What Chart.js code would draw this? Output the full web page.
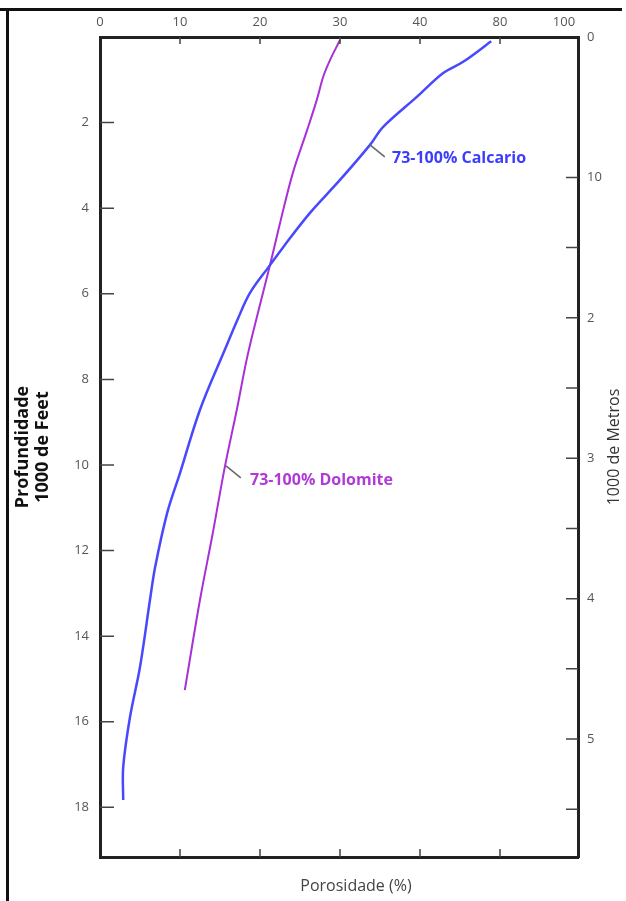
<!DOCTYPE html>
<html>
<head>
<meta charset="utf-8">
<script src="https://cdn.jsdelivr.net/npm/chart.js@4.4.1/dist/chart.umd.min.js"></script>
<style>
	body { margin: 0; background: #fff; }
	#wrap { position: relative; width: 626px; height: 901px; }
	#chart { position: absolute; left: 0; top: 0; }
	.frame { position: absolute; background: #111; pointer-events: none; }
</style>
</head>
<body>
<div id="wrap">
	<div class="frame" style="left:0; top:8px; width:622px; height:3px;"></div>
	<div class="frame" style="left:6px; top:8px; width:3px; height:893px;"></div>
	<canvas id="chart" width="626" height="901"></canvas>
</div>
<script>
// Porosity (%) against depth (1000 ft)
var CALCARIO_POROSITY = [48.9, 45.4, 42.9, 39.6, 35.4, 33.75, 30.0, 26.25, 22.9, 21.25, 18.75, 17.2, 15.6, 12.5, 10.0, 8.4, 6.9, 6.25, 5.0, 3.75, 2.9, 2.9];
var CALCARIO_DEPTH    = [0.1, 0.58, 0.84, 1.4, 2.1, 2.52, 3.34, 4.11, 4.91, 5.33, 5.98, 6.6, 7.31, 8.71, 10.19, 11.12, 12.38, 13.15, 14.72, 15.89, 17.06, 17.83];

var DOLOMITE_POROSITY = [30.0, 28.75, 27.9, 27.1, 25.9, 24.1, 22.5, 21.25, 19.8, 18.4, 17.1, 15.6, 14.1, 12.5, 10.6];
var DOLOMITE_DEPTH    = [0.07, 0.54, 0.93, 1.47, 2.17, 3.18, 4.35, 5.33, 6.4, 7.48, 8.71, 10.05, 11.59, 13.15, 15.26];

// axis ticks as printed on the figure
var TOP_TICK_VALUES = [0, 10, 20, 30, 40, 50, 58];
var TOP_TICK_LABELS = ['0', '10', '20', '30', '40', '80', '100'];
var BOTTOM_TICK_VALUES = [10, 20, 30, 40, 50];
var FEET_TICK_VALUES = [2, 4, 6, 8, 10, 12, 14, 16, 18];
var METER_TICK_VALUES = [0, 1, 1.5, 2, 2.5, 3, 3.5, 4, 4.5, 5, 5.5];
var METER_TICK_LABELS = ['0', '10', '', '2', '', '3', '', '4', '', '5', ''];

var X_MAX = 59.75;
var DEPTH_MAX = 19.16;
var FEET_PER_METER = 3.2808;

var BLUE = '#4848ff';
var PURPLE = '#a92fd9';
var TICK_COLOR = '#555';
var AXIS_COLOR = '#222';

function toPoints(xs, ys) {
	var pts = [];
	for (var i = 0; i < xs.length; i++) {
		pts.push({x: xs[i], y: ys[i]});
	}
	return pts;
}

function setTicks(values) {
	return function(scale) {
		scale.ticks = values.map(function(v) { return {value: v}; });
	};
}

function fixSize(prop, size) {
	return function(scale) { scale[prop] = size; };
}

var tickFont = {family: 'Open Sans', size: 13};

// short tick marks drawn inside the plot frame
var innerTicks = {
	id: 'innerTicks',
	afterDraw: function(chart) {
		var ctx = chart.ctx, a = chart.chartArea, s = chart.scales;
		ctx.save();
		ctx.strokeStyle = '#444';
		ctx.lineWidth = 1.5;
		ctx.beginPath();
		s.x.ticks.forEach(function(t) {
			if (t.value <= 0 || t.value >= 55) return;
			var px = s.x.getPixelForValue(t.value);
			ctx.moveTo(px, a.top); ctx.lineTo(px, a.top + 7);
		});
		s.x2.ticks.forEach(function(t) {
			var px = s.x2.getPixelForValue(t.value);
			ctx.moveTo(px, a.bottom); ctx.lineTo(px, a.bottom - 8);
		});
		s.y.ticks.forEach(function(t) {
			var py = s.y.getPixelForValue(t.value);
			ctx.moveTo(a.left, py); ctx.lineTo(a.left + 14, py);
		});
		s.y2.ticks.forEach(function(t) {
			if (t.value <= 0) return;
			var py = s.y2.getPixelForValue(t.value);
			ctx.moveTo(a.right, py); ctx.lineTo(a.right - 12, py);
		});
		ctx.stroke();
		ctx.restore();
	}
};

// curve labels with leader lines, placed in data units
var CURVE_LABELS = [
	{text: '73-100% Calcario', color: '#3c3cff', from: [33.75, 2.52], to: [35.6, 2.8], at: [36.5, 2.83]},
	{text: '73-100% Dolomite', color: '#b03ad8', from: [15.75, 10.02], to: [17.6, 10.3], at: [18.75, 10.35]}
];

var curveLabels = {
	id: 'curveLabels',
	afterDatasetsDraw: function(chart) {
		var ctx = chart.ctx, sx = chart.scales.x, sy = chart.scales.y;
		ctx.save();
		CURVE_LABELS.forEach(function(l) {
			ctx.strokeStyle = '#666';
			ctx.lineWidth = 1.5;
			ctx.beginPath();
			ctx.moveTo(sx.getPixelForValue(l.from[0]), sy.getPixelForValue(l.from[1]));
			ctx.lineTo(sx.getPixelForValue(l.to[0]), sy.getPixelForValue(l.to[1]));
			ctx.stroke();
			ctx.fillStyle = l.color;
			ctx.font = 'bold 16px "Open Sans"';
			ctx.textAlign = 'left';
			ctx.textBaseline = 'middle';
			ctx.fillText(l.text, sx.getPixelForValue(l.at[0]), sy.getPixelForValue(l.at[1]));
		});
		ctx.restore();
	}
};

// right and bottom axis titles
var sideTitles = {
	id: 'sideTitles',
	afterDraw: function(chart) {
		var ctx = chart.ctx, a = chart.chartArea;
		ctx.save();
		ctx.fillStyle = '#333';
		ctx.textAlign = 'center';
		ctx.textBaseline = 'middle';
		ctx.font = '16px "Open Sans"';
		ctx.translate(a.right + 36, (a.top + a.bottom) / 2);
		ctx.rotate(-Math.PI / 2);
		ctx.fillText('1000 de Metros', 0, 0);
		ctx.restore();

		ctx.save();
		ctx.fillStyle = '#444';
		ctx.textAlign = 'center';
		ctx.textBaseline = 'middle';
		ctx.font = '16px "Open Sans"';
		ctx.fillText('Porosidade (%)', a.left + 256, a.bottom + 29);
		ctx.restore();
	}
};

var chart = new Chart(document.getElementById('chart'), {
	type: 'scatter',
	data: {
		datasets: [
			{
				label: '73-100% Calcario',
				data: toPoints(CALCARIO_POROSITY, CALCARIO_DEPTH),
				showLine: true,
				borderColor: BLUE,
				borderWidth: 2.5,
				pointRadius: 0,
				tension: 0.35,
				fill: false
			},
			{
				label: '73-100% Dolomite',
				data: toPoints(DOLOMITE_POROSITY, DOLOMITE_DEPTH),
				showLine: true,
				borderColor: PURPLE,
				borderWidth: 2,
				pointRadius: 0,
				tension: 0.35,
				fill: false
			}
		]
	},
	options: {
		responsive: false,
		animation: false,
		layout: { padding: 0 },
		plugins: {
			legend: { display: false },
			tooltip: { enabled: false }
		},
		scales: {
			x: {
				type: 'linear',
				position: 'top',
				min: 0,
				max: X_MAX,
				afterBuildTicks: setTicks(TOP_TICK_VALUES),
				afterFit: fixSize('height', 37),
				ticks: {
					autoSkip: false,
					maxRotation: 0,
					padding: 7,
					color: TICK_COLOR,
					font: tickFont,
					callback: function(v) { return TOP_TICK_LABELS[TOP_TICK_VALUES.indexOf(v)]; }
				},
				grid: { drawOnChartArea: false, drawTicks: false },
				border: { color: AXIS_COLOR, width: 3 }
			},
			x2: {
				type: 'linear',
				position: 'bottom',
				min: 0,
				max: X_MAX,
				afterBuildTicks: setTicks(BOTTOM_TICK_VALUES),
				afterFit: fixSize('height', 44),
				ticks: { display: false },
				grid: { drawOnChartArea: false, drawTicks: false },
				border: { color: AXIS_COLOR, width: 3 }
			},
			y: {
				type: 'linear',
				position: 'left',
				reverse: true,
				min: 0,
				max: DEPTH_MAX,
				afterBuildTicks: setTicks(FEET_TICK_VALUES),
				afterFit: fixSize('width', 100),
				ticks: { padding: 11, color: TICK_COLOR, font: tickFont },
				grid: { drawOnChartArea: false, drawTicks: false },
				border: { color: AXIS_COLOR, width: 3 },
				title: {
					display: true,
					text: ['Profundidade', '1000 de Feet'],
					color: '#111',
					font: {family: 'Open Sans', size: 18, weight: 'bold', lineHeight: 1.1},
					padding: {top: 13, bottom: 0}
				}
			},
			y2: {
				type: 'linear',
				position: 'right',
				reverse: true,
				min: 0,
				max: DEPTH_MAX / FEET_PER_METER,
				afterBuildTicks: setTicks(METER_TICK_VALUES),
				afterFit: fixSize('width', 48),
				ticks: {
					padding: 9,
					color: TICK_COLOR,
					font: tickFont,
					callback: function(v) { return METER_TICK_LABELS[METER_TICK_VALUES.indexOf(v)]; }
				},
				grid: { drawOnChartArea: false, drawTicks: false },
				border: { color: AXIS_COLOR, width: 3 }
			}
		}
	},
	plugins: [innerTicks, curveLabels, sideTitles]
});
</script>
</body>
</html>
